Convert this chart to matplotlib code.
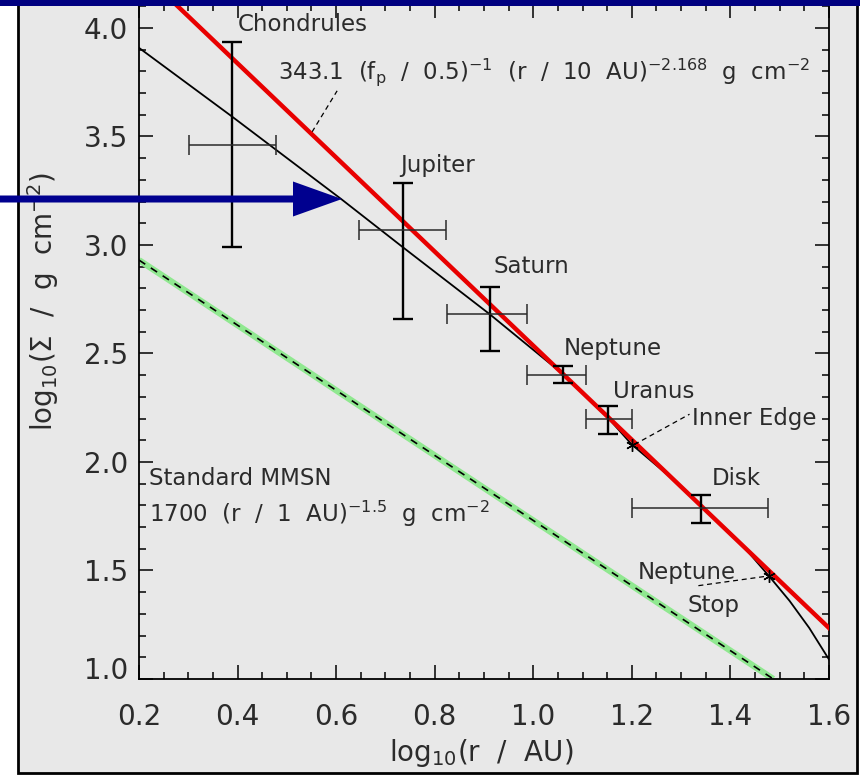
import numpy as np
import matplotlib
matplotlib.use('Agg')
import matplotlib.pyplot as plt
from matplotlib.patches import Rectangle, FancyArrow
import matplotlib.transforms as mtransforms

plt.rcParams['font.family'] = ['DejaVu Sans']
plt.rcParams['mathtext.fontset'] = 'custom'
plt.rcParams['mathtext.rm'] = 'DejaVu Sans'
plt.rcParams['mathtext.it'] = 'DejaVu Sans'
plt.rcParams['mathtext.default'] = 'regular'

# ---- data ----
names = ['Chondrules', 'Jupiter', 'Saturn', 'Neptune', 'Uranus', 'Disk']
px = [0.389, 0.735, 0.912, 1.060, 1.151, 1.340]
px_lo = [0.301, 0.646, 0.825, 0.987, 1.107, 1.200]
px_hi = [0.478, 0.823, 0.987, 1.107, 1.200, 1.476]
py = [3.46, 3.07, 2.68, 2.40, 2.20, 1.79]
py_lo = [2.99, 2.66, 2.51, 2.365, 2.13, 1.72]
py_hi = [3.935, 3.285, 2.806, 2.44, 2.26, 1.85]

# label positions (left edge, baseline)
lab_x = [0.401, 0.729, 0.920, 1.062, 1.161, 1.363]
lab_y = [3.984, 3.336, 2.871, 2.493, 2.295, 1.894]

# fitted power law (red) and MMSN (green)
fit_x = [0.2, 1.6]
fit_y = [4.270, 1.235]
mmsn_x = [0.2, 1.487]
mmsn_y = [2.930, 1.000]

# model disk profile (black)
model_x = [0.2, 0.389, 0.611, 0.735, 0.912, 1.060, 1.151, 1.200, 1.300, 1.400,
           1.440, 1.478, 1.520, 1.560, 1.600]
model_y = [3.908, 3.591, 3.210, 2.990, 2.680, 2.405, 2.205, 2.080, 1.888, 1.672,
           1.575, 1.475, 1.360, 1.235, 1.090]

star_x = [1.200, 1.478]
star_y = [2.080, 1.475]

fig = plt.figure(figsize=(8.6, 7.75), dpi=100)
fig.patch.set_facecolor('white')
W, H = 860.0, 775.0

# grey panel with black frame
fig.add_artist(Rectangle((18 / W, 2 / H), (857 - 18) / W, 1.0, transform=fig.transFigure,
                         facecolor='#e8e8e8', edgecolor='black', lw=2, zorder=-2))

ax = fig.add_axes([139 / W, 96 / H, 690 / W, 675 / H])
ax.set_facecolor('none')
ax.set_xlim(0.2, 1.6)
ax.set_ylim(1.0, 4.11)

txt = '#2b2b2b'
ax.plot(mmsn_x, mmsn_y, color='#90e890', lw=4.5, solid_capstyle='butt', zorder=2)
ax.plot(mmsn_x, mmsn_y, color='black', lw=1.2, dashes=(4.5, 4), zorder=3)
ax.plot(model_x, model_y, color='black', lw=1.3, zorder=3)
ax.plot(fit_x, fit_y, color='#e80000', lw=3.2, zorder=4)

yerr = [np.array(py) - np.array(py_lo), np.array(py_hi) - np.array(py)]
xerr = [np.array(px) - np.array(px_lo), np.array(px_hi) - np.array(px)]
ax.errorbar(px, py, yerr=yerr, fmt='none', ecolor='black', elinewidth=1.7,
            capsize=7.5, capthick=1.7, zorder=5)
ax.errorbar(px, py, xerr=xerr, fmt='none', ecolor='#2a2a2a', elinewidth=1.1,
            capsize=7.5, capthick=1.1, zorder=5)

ax.plot(star_x, star_y, ls='none', marker=(6, 2, 0), ms=9, mew=1.0, color='black', zorder=6)

fs = 16.5
for n, x, y in zip(names, lab_x, lab_y):
    ax.text(x, y, n, fontsize=fs, color=txt, va='baseline', ha='left')

ax.text(0.482, 3.765,
        r'343.1  (f$_p$  /  0.5)$^{-1}$  (r  /  10  AU)$^{-2.168}$  g  cm$^{-2}$',
        fontsize=fs, color=txt, va='baseline', ha='left')
ax.plot([0.551, 0.602], [3.52, 3.71], color='black', lw=0.9, dashes=(4, 3))

ax.text(1.322, 2.17, 'Inner Edge', fontsize=fs, color=txt, va='baseline', ha='left')
ax.plot([1.205, 1.317], [2.08, 2.22], color='black', lw=0.9, dashes=(4, 3))

ax.text(1.212, 1.461, 'Neptune', fontsize=fs, color=txt, va='baseline', ha='left')
ax.text(1.312, 1.309, 'Stop', fontsize=fs, color=txt, va='baseline', ha='left')
ax.plot([1.335, 1.478], [1.43, 1.475], color='black', lw=0.9, dashes=(4, 3))

ax.text(0.22, 1.894, 'Standard MMSN', fontsize=fs, color=txt, va='baseline', ha='left')
ax.text(0.22, 1.724, r'1700  (r  /  1  AU)$^{-1.5}$  g  cm$^{-2}$', fontsize=fs, color=txt,
        va='baseline', ha='left')

# axes styling
for s in ax.spines.values():
    s.set_linewidth(1.3)
    s.set_color('black')
ax.set_xticks(np.arange(0.2, 1.61, 0.2))
ax.set_xticks(np.arange(0.2, 1.61, 0.05), minor=True)
ax.set_yticks(np.arange(1.0, 4.01, 0.5))
ax.set_yticks(np.arange(1.0, 4.11, 0.1), minor=True)
ax.set_xticklabels(['%.1f' % v for v in np.arange(0.2, 1.61, 0.2)])
ax.set_yticklabels(['%.1f' % v for v in np.arange(1.0, 4.01, 0.5)])
ax.tick_params(which='both', direction='in', top=True, right=True, color='black', width=1.1,
               labelsize=20, labelcolor=txt)
ax.tick_params(which='major', length=10)
ax.tick_params(which='minor', length=5)
ax.tick_params(axis='x', which='major', pad=17)
ax.tick_params(axis='y', which='major', pad=8)
# lift the lowest y label off the corner
lbl = ax.get_yticklabels()[0]
lbl.set_transform(lbl.get_transform() + mtransforms.ScaledTranslation(0, 11 / 100, fig.dpi_scale_trans))

fig.text(481 / W, 1 - 753 / H, r'log$_{10}$(r  /  AU)', fontsize=20, color=txt,
         ha='center', va='center')
fig.text(43 / W, 1 - 302 / H, r'log$_{10}$($\Sigma$  /  g  cm$^{-2}$)', fontsize=20, color=txt,
         ha='center', va='center', rotation=90)

# navy bar on top and arrow
fig.add_artist(Rectangle((0, 1 - 6 / H), 1, 6 / H, transform=fig.transFigure,
                         facecolor='#000080', edgecolor='none', zorder=10))
fig.add_artist(FancyArrow(0, 1 - 199 / H, 342 / W, 0, width=7 / H, head_width=35 / H,
                          head_length=49 / W, length_includes_head=True,
                          transform=fig.transFigure, facecolor='#00008f',
                          edgecolor='none', zorder=10))

fig.savefig('out.png', dpi=100)
